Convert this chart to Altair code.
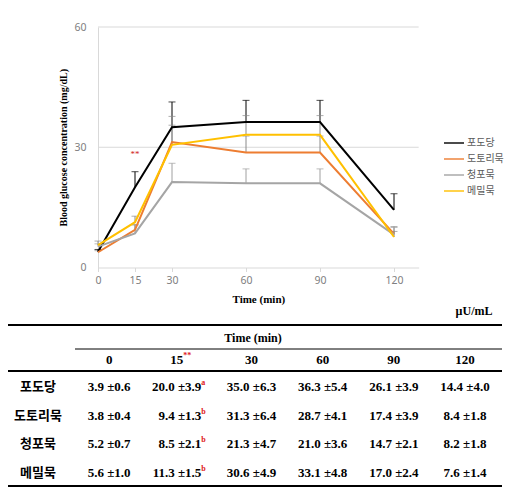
import altair as alt
import pandas as pd

# ---------------- data ----------------
times = [0, 15, 30, 60, 90, 120]
time_labels = ["0", "15", "30", "60", "90", "120"]
series = ["포도당", "도토리묵", "청포묵", "메밀묵"]
line_colors = ["#000000", "#ED7D31", "#A5A5A5", "#FFC000"]
err_colors = ["#000000", "#8a8a8a", "#a0a0a0", "#8a8a8a"]

# values drawn in the figure
glucose_mean = [3.9, 20.0, 35.0, 36.3, 36.3, 14.4]
glucose_sd = [0.6, 3.9, 6.3, 5.4, 5.4, 4.0]
acorn_mean = [3.8, 9.4, 31.3, 28.7, 28.7, 8.4]
acorn_sd = [0.4, 1.3, 6.4, 4.1, 4.1, 1.8]
mung_mean = [5.2, 8.5, 21.3, 21.0, 21.0, 8.2]
mung_sd = [0.7, 2.1, 4.7, 3.6, 3.6, 1.8]
buck_mean = [5.6, 11.3, 30.6, 33.1, 33.1, 7.6]
buck_sd = [1.0, 1.5, 4.9, 4.8, 4.8, 1.4]

# values printed in the table
t_glucose_mean = [3.9, 20.0, 35.0, 36.3, 26.1, 14.4]
t_glucose_sd = [0.6, 3.9, 6.3, 5.4, 3.9, 4.0]
t_acorn_mean = [3.8, 9.4, 31.3, 28.7, 17.4, 8.4]
t_acorn_sd = [0.4, 1.3, 6.4, 4.1, 3.9, 1.8]
t_mung_mean = [5.2, 8.5, 21.3, 21.0, 14.7, 8.2]
t_mung_sd = [0.7, 2.1, 4.7, 3.6, 2.1, 1.8]
t_buck_mean = [5.6, 11.3, 30.6, 33.1, 17.0, 7.6]
t_buck_sd = [1.0, 1.5, 4.9, 4.8, 2.4, 1.4]
sup15 = ["a", "b", "b", "b"]

grid_values = [30, 60]
star_time, star_value, star_text = 15, 28.2, "**"

# ---------------- frames ----------------
plot_means = [glucose_mean, acorn_mean, mung_mean, buck_mean]
plot_sds = [glucose_sd, acorn_sd, mung_sd, buck_sd]
rows = []
for i, s in enumerate(series):
    for j, t in enumerate(times):
        rows.append({"series": s, "k": i, "time": t, "value": plot_means[i][j],
                     "upper": plot_means[i][j] + plot_sds[i][j], "ecolor": err_colors[i]})
df = pd.DataFrame(rows)
grid_df = pd.DataFrame({"value": grid_values, "time": [0] * len(grid_values),
                        "time2": [130] * len(grid_values)})
star_df = pd.DataFrame({"time": [star_time], "value": [star_value], "t": [star_text]})

tab_means = [t_glucose_mean, t_acorn_mean, t_mung_mean, t_buck_mean]
tab_sds = [t_glucose_sd, t_acorn_sd, t_mung_sd, t_buck_sd]
cells = []
for i in range(len(series)):
    for j in range(len(times)):
        cells.append({"row": i, "col": j + 1,
                      "text": f"{tab_means[i][j]:.1f} ±{tab_sds[i][j]:.1f}",
                      "sup": sup15[i] if times[j] == 15 else ""})
cells_df = pd.DataFrame(cells)
rowlab_df = pd.DataFrame({"row": list(range(len(series))), "col": [0] * len(series), "text": series})
colhead_df = pd.DataFrame({"col": list(range(1, len(times) + 1)), "text": time_labels})

SERIF = "Liberation Serif"
KR = "Noto Sans CJK KR"
LAB = "Noto Sans"

# ---------------- chart part ----------------
xscale = alt.Scale(domain=[0, 130], range=[90, 410.67], nice=False, zero=False)
yscale = alt.Scale(domain=[0, 60], range=[259.5, 19], nice=False, zero=False)
xaxis = alt.Axis(values=times, offset=-220.5, title="Time (min)", titleFont=SERIF,
                 titleFontWeight="bold", titleFontSize=11, titleColor="#000000", titlePadding=7,
                 labelFont=LAB, labelFontSize=10.5, labelColor="#808080", labelFlush=False,
                 labelOverlap=False, labelPadding=4, tickSize=4, tickColor="#d9d9d9",
                 domainColor="#d9d9d9", grid=False)
yaxis = alt.Axis(values=[0, 30, 60], offset=-90, title="Blood glucose concentration (mg/dL)",
                 titleFont=SERIF, titleFontWeight="bold", titleFontSize=10, titleColor="#000000",
                 titlePadding=5, labelFont=LAB, labelFontSize=10.5, labelColor="#808080",
                 labelFlush=False, labelPadding=12, ticks=False, domainColor="#d9d9d9", grid=False)
X = alt.X("time:Q", scale=xscale, axis=xaxis)
Y = alt.Y("value:Q", scale=yscale, axis=yaxis)
YU = alt.Y("upper:Q", scale=yscale, axis=yaxis)

grid = alt.Chart(grid_df).mark_rule(color="#d9d9d9", strokeWidth=1).encode(
    x=X, x2=alt.X2("time2:Q"), y=Y)
err = alt.Chart(df).mark_rule(strokeWidth=1).encode(
    x=X, y=Y, y2=alt.Y2("upper:Q"), color=alt.Color("ecolor:N", scale=None))
caps = alt.Chart(df).mark_tick(orient="horizontal", size=7, thickness=1).encode(
    x=X, y=YU, color=alt.Color("ecolor:N", scale=None))
lines = alt.Chart(df).mark_line(strokeWidth=2).encode(
    x=X, y=Y, order=alt.Order("time:Q"),
    color=alt.Color("series:N", scale=alt.Scale(domain=series, range=line_colors),
                    legend=alt.Legend(title=None, orient="none", legendX=435, legendY=124,
                                      symbolType="stroke", symbolSize=400, symbolStrokeWidth=2,
                                      labelFont=KR, labelFontSize=10, labelColor="#595959",
                                      rowPadding=0, labelOffset=2)))
star = alt.Chart(star_df).mark_text(color="#d02020", fontSize=9, font=SERIF).encode(
    x=X, y=Y, text="t:N")
plot_part = alt.layer(grid, err, caps, lines, star)

# ---------------- table part ----------------
TX = alt.X("col:Q", scale=alt.Scale(domain=[0, 6], range=[30, 457], nice=False, zero=False), axis=None)
TY = alt.Y("row:Q", scale=alt.Scale(domain=[0, 3], range=[379, 465], nice=False, zero=False), axis=None)

cell_main = alt.Chart(cells_df).transform_filter("datum.sup == ''").mark_text(
    font=SERIF, fontWeight="bold", fontSize=13, baseline="middle").encode(x=TX, y=TY, text="text:N")
cell15 = alt.Chart(cells_df).transform_filter("datum.sup != ''").mark_text(
    font=SERIF, fontWeight="bold", fontSize=13, baseline="middle", align="right", dx=21).encode(
    x=TX, y=TY, text="text:N")
cell15sup = alt.Chart(cells_df).transform_filter("datum.sup != ''").mark_text(
    font=SERIF, fontWeight="bold", fontSize=8, baseline="middle", align="left", dx=21, dy=-4,
    color="#e02020").encode(x=TX, y=TY, text="sup:N")
rowlab = alt.Chart(rowlab_df).mark_text(font=KR, fontWeight="bold", fontSize=13,
                                        baseline="middle").encode(x=TX, y=TY, text="text:N")
colhead = alt.Chart(colhead_df).transform_filter("datum.text != '15'").mark_text(
    font=SERIF, fontWeight="bold", fontSize=13, baseline="middle").encode(
    x=TX, y=alt.value(352), text="text:N")
colhead15 = alt.Chart(colhead_df).transform_filter("datum.text == '15'").mark_text(
    font=SERIF, fontWeight="bold", fontSize=13, baseline="middle", align="right", dx=3).encode(
    x=TX, y=alt.value(352), text="text:N")
colhead15s = alt.Chart(colhead_df).transform_filter("datum.text == '15'").mark_text(
    font=SERIF, fontWeight="bold", fontSize=8, baseline="middle", align="left", dx=3, dy=-4,
    color="#e02020", text="**").encode(x=TX, y=alt.value(352))
one = pd.DataFrame({"a": [0]})
time_hdr = alt.Chart(one).mark_text(font=SERIF, fontWeight="bold", fontSize=12, text="Time (min)",
                                    baseline="middle").encode(x=alt.value(245), y=alt.value(330))
unit = alt.Chart(one).mark_text(font=SERIF, fontWeight="bold", fontSize=12, text="µU/mL",
                                baseline="middle").encode(x=alt.value(466), y=alt.value(303))
r_top = alt.Chart(one).mark_rule(color="#000000", strokeWidth=2.2).encode(
    x=alt.value(0), x2=alt.value(494), y=alt.value(317))
r_mid = alt.Chart(one).mark_rule(color="#000000", strokeWidth=1).encode(
    x=alt.value(67), x2=alt.value(494), y=alt.value(341))
r_hdr = alt.Chart(one).mark_rule(color="#000000", strokeWidth=2.2).encode(
    x=alt.value(0), x2=alt.value(494), y=alt.value(363))
r_bot = alt.Chart(one).mark_rule(color="#000000", strokeWidth=2.2).encode(
    x=alt.value(0), x2=alt.value(494), y=alt.value(478))
table_part = alt.layer(cell_main, cell15, cell15sup, rowlab, colhead, colhead15, colhead15s,
                       time_hdr, unit, r_top, r_mid, r_hdr, r_bot)

chart = alt.layer(plot_part, table_part).resolve_scale(
    x="independent", y="independent").properties(
    width=509, height=480, padding=0, autosize=alt.AutoSizeParams(type="none"),
    background="#ffffff").configure_view(stroke=None)

chart.save("out.html", embed_options={"renderer": "svg", "actions": False})
